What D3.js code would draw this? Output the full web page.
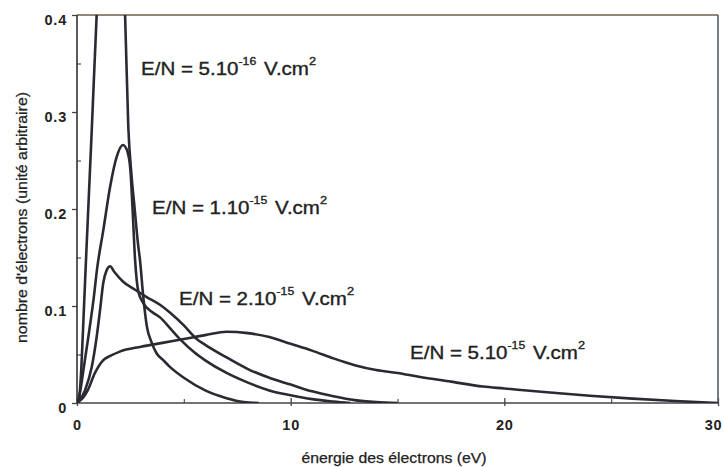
<!DOCTYPE html>
<html>
<head>
<meta charset="utf-8">
<script src="https://cdn.jsdelivr.net/npm/d3@7"></script>
<style>
  html, body { margin: 0; padding: 0; background: #fff; }
  svg { display: block; }
  text { font-family: "Liberation Sans", Arial, Helvetica, sans-serif; fill: #222; }
</style>
</head>
<body>
<svg id="chart" width="724" height="467"></svg>
<script>
// ---- data (energy in eV, number of electrons in arbitrary units) ----
const energy5e16 = [0, 0.1, 0.2, 0.3, 0.42, 0.69, 0.92, 1.2, 1.5, 1.8, 2.05, 2.25, 2.4, 2.55, 2.7, 2.85, 2.95, 3.1, 3.27, 3.5, 3.73, 4.0, 4.36, 5, 6, 7, 7.8, 8.5];
const count5e16  = [0, 0.005, 0.035, 0.085, 0.147, 0.281, 0.40, 0.52, 0.58, 0.56, 0.48, 0.40, 0.285, 0.235, 0.20, 0.165, 0.147, 0.11, 0.079, 0.062, 0.051, 0.045, 0.037, 0.026, 0.013, 0.005, 0.001, 0];

const energy1e15 = [0, 0.15, 0.3, 0.53, 0.77, 0.95, 1.23, 1.55, 1.86, 2.15, 2.35, 2.5, 2.6, 2.72, 2.87, 3.1, 3.5, 3.9, 4.36, 4.9, 5.5, 6, 7, 8, 9, 10, 11, 12, 12.8];
const count1e15  = [0, 0.012, 0.034, 0.068, 0.106, 0.14, 0.178, 0.223, 0.254, 0.266, 0.26, 0.24, 0.20, 0.147, 0.115, 0.103, 0.094, 0.088, 0.077, 0.064, 0.052, 0.044, 0.031, 0.021, 0.013, 0.008, 0.004, 0.0015, 0];

const energy2e15 = [0, 0.375, 0.69, 0.92, 1.08, 1.23, 1.39, 1.55, 1.75, 2.16, 2.7, 3.28, 3.9, 4.36, 5, 5.6, 6, 7, 8, 9, 10, 11, 12, 13, 14, 15];
const count2e15  = [0, 0.013, 0.037, 0.068, 0.096, 0.124, 0.137, 0.141, 0.135, 0.125, 0.117, 0.109, 0.101, 0.093, 0.08, 0.066, 0.06, 0.047, 0.035, 0.026, 0.019, 0.012, 0.007, 0.003, 0.001, 0];

const energy5e15 = [0, 0.3, 0.5, 0.84, 1.22, 1.6, 2, 3, 4, 5, 6, 7, 8, 9, 10, 11, 12, 13, 14, 15, 16, 17.5, 19, 20, 22, 24, 26, 28, 30];
const count5e15  = [0, 0.006, 0.013, 0.031, 0.044, 0.049, 0.053, 0.058, 0.062, 0.066, 0.070, 0.0735, 0.072, 0.068, 0.061, 0.054, 0.046, 0.039, 0.034, 0.031, 0.027, 0.022, 0.017, 0.015, 0.011, 0.0075, 0.0045, 0.002, 0];

const seriesLabels = ["5.10", "1.10", "2.10", "5.10"];
const seriesExponents = ["-16", "-15", "-15", "-15"];

const xTickValues = [0, 10, 20, 30];
const xMinorTicks = [5, 15, 25];
const yTickValues = [0, 0.1, 0.2, 0.3, 0.4];
const yMinorTicks = [0.05, 0.15, 0.25, 0.35];

const xTitle = "énergie des électrons (eV)";
const yTitle = "nombre d'électrons (unité arbitraire)";

// ---- layout ----
const svg = d3.select("#chart");
const mLeft = 77, mRight = 718, mTop = 15, mBottom = 403;
const x = d3.scaleLinear().domain([0, 30]).range([mLeft, mRight]);
const y = d3.scaleLinear().domain([0, 0.4]).range([mBottom, mTop]);
const ink = "#2a2a33";

// axes: x
const gx = svg.append("g").attr("transform", `translate(0,${mBottom})`);
gx.call(d3.axisBottom(x).tickValues(xTickValues).tickSizeInner(-5).tickSizeOuter(0).tickPadding(17).tickFormat(d3.format("d")));
gx.select(".domain").remove();
gx.selectAll("line").attr("stroke", "#444").attr("stroke-width", 1.3);
gx.selectAll("text").style("font-size", "14.5px").style("font-weight", "bold").style("letter-spacing", "0.8px").attr("fill", "#222");
// keep the last label ("30") inside the picture
gx.selectAll(".tick text").filter(d => d === 30).attr("dx", -5);

const gx2 = svg.append("g").attr("transform", `translate(0,${mBottom})`);
gx2.call(d3.axisBottom(x).tickValues(xTickValues).tickSize(3).tickFormat(""));
gx2.select(".domain").remove();
gx2.selectAll("line").attr("stroke", "#444").attr("stroke-width", 1.3);

const gx3 = svg.append("g").attr("transform", `translate(0,${mBottom})`);
gx3.call(d3.axisBottom(x).tickValues(xMinorTicks).tickSize(-4).tickFormat(""));
gx3.select(".domain").remove();
gx3.selectAll("line").attr("stroke", "#555").attr("stroke-width", 1.2);

// axes: y
const gy = svg.append("g").attr("transform", `translate(${mLeft},0)`);
gy.call(d3.axisLeft(y).tickValues(yTickValues).tickSize(5).tickPadding(5).tickFormat(d => d === 0 ? "0" : d3.format(".1f")(d)));
gy.select(".domain").remove();
gy.selectAll("line").attr("stroke", "#444").attr("stroke-width", 1.3);
gy.selectAll("text").attr("dy", "0.62em").style("font-size", "14.5px").style("font-weight", "bold").style("letter-spacing", "0.8px").attr("fill", "#222");

const gy2 = svg.append("g").attr("transform", `translate(${mLeft},0)`);
gy2.call(d3.axisLeft(y).tickValues(yMinorTicks).tickSize(-4).tickFormat(""));
gy2.select(".domain").remove();
gy2.selectAll("line").attr("stroke", "#555").attr("stroke-width", 1.2);

// frame
svg.append("line").attr("x1", mLeft).attr("x2", mRight).attr("y1", mTop).attr("y2", mTop).attr("stroke", "#6a6048").attr("stroke-width", 1.6);
svg.append("line").attr("x1", mRight).attr("x2", mRight).attr("y1", mTop).attr("y2", mBottom).attr("stroke", "#555a68").attr("stroke-width", 1.6);
svg.append("line").attr("x1", mLeft).attr("x2", mRight).attr("y1", mBottom).attr("y2", mBottom).attr("stroke", "#444").attr("stroke-width", 1.6);
svg.append("line").attr("x1", mLeft).attr("x2", mLeft).attr("y1", mTop).attr("y2", mBottom).attr("stroke", "#333").attr("stroke-width", 1.6);

// curves
svg.append("clipPath").attr("id", "plotclip").append("rect")
  .attr("x", mLeft).attr("y", mTop).attr("width", mRight - mLeft).attr("height", mBottom - mTop);

const series = [
  [energy5e16, count5e16],
  [energy1e15, count1e15],
  [energy2e15, count2e15],
  [energy5e15, count5e15]
];
const line = d3.line().x(d => x(d[0])).y(d => y(d[1])).curve(d3.curveMonotoneX);
const gc = svg.append("g").attr("clip-path", "url(#plotclip)");
series.forEach(([es, cs]) => {
  gc.append("path")
    .datum(es.map((e, i) => [e, cs[i]]))
    .attr("d", line)
    .attr("fill", "none")
    .attr("stroke", ink)
    .attr("stroke-width", 2.6)
    .attr("stroke-linejoin", "round");
});

// series labels
const labelPos = [[141, 75], [152, 214], [179, 305], [410, 359]];
seriesLabels.forEach((lab, i) => {
  const t = svg.append("text")
    .attr("transform", `translate(${labelPos[i][0]},${labelPos[i][1]}) scale(1.11,1)`)
    .style("font-size", "18.5px")
    .attr("stroke", "#222").attr("stroke-width", 0.35);
  t.append("tspan").text("E/N = " + lab);
  t.append("tspan").attr("dy", -10).style("font-size", "11px").text(seriesExponents[i]);
  t.append("tspan").attr("dy", 10).attr("dx", 2).text(" V.cm");
  t.append("tspan").attr("dy", -10).style("font-size", "11.5px").text("2");
});

// axis titles
svg.append("text")
  .attr("x", 394).attr("y", 463)
  .attr("text-anchor", "middle")
  .attr("textLength", 185).attr("lengthAdjust", "spacingAndGlyphs")
  .style("font-size", "14px")
  .attr("stroke", "#222").attr("stroke-width", 0.25)
  .text(xTitle);

svg.append("text")
  .attr("transform", "translate(27,217.5) rotate(-90)")
  .attr("text-anchor", "middle")
  .attr("textLength", 251).attr("lengthAdjust", "spacingAndGlyphs")
  .style("font-size", "14px")
  .attr("stroke", "#222").attr("stroke-width", 0.25)
  .text(yTitle);
</script>
</body>
</html>
